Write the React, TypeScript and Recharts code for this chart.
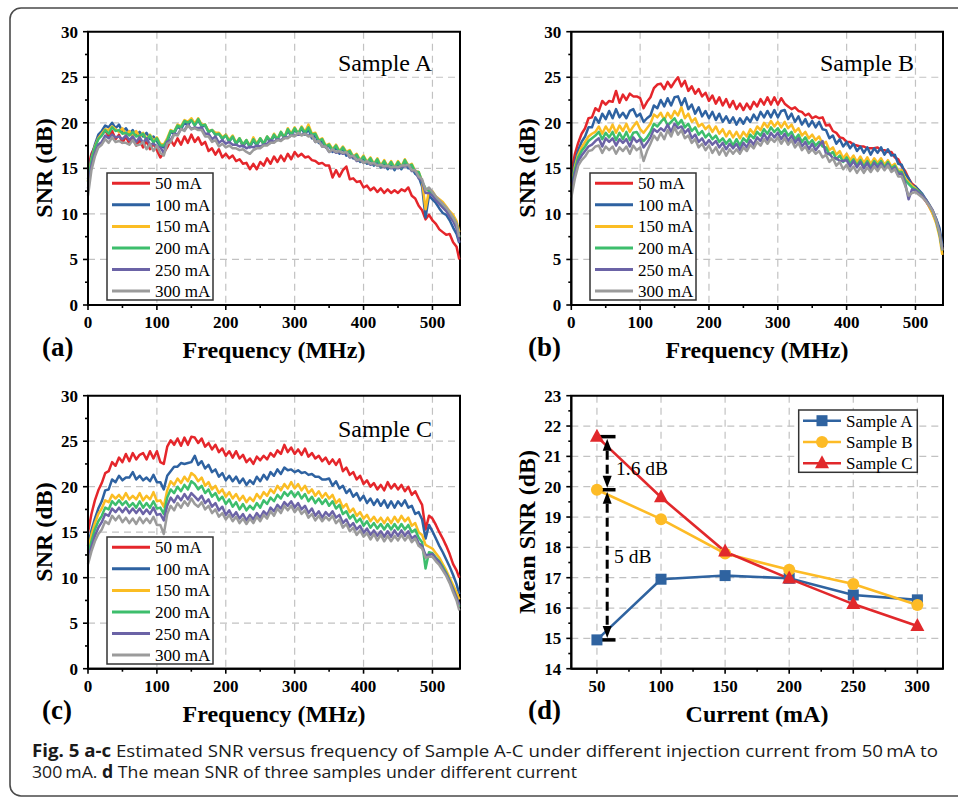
import React from 'react';
import {
  LineChart,
  Line,
  XAxis,
  YAxis,
  CartesianGrid,
  ReferenceArea,
  ReferenceLine,
} from 'recharts';

// ---------- sampling grid and series labels ----------
const FREQ_MHZ: number[] = [...Array.from({ length: 108 }, (_, i) => i * 5), 539];
const CURRENT_LABELS = ['50 mA', '100 mA', '150 mA', '200 mA', '250 mA', '300 mA'];
const CURRENT_COLORS = ['#E5262B', '#2E62A1', '#FBBD23', '#3DBE6C', '#6B63A6', '#9B9B9B'];

// ---------- Sample A: SNR (dB) vs frequency ----------
const A_50 = [15.0, 16.6, 17.4, 18.4, 18.7, 19.2, 18.5, 19.1, 18.2, 18.7, 17.8, 18.5, 17.7, 18.3, 17.5, 18.1, 17.3, 18.0, 17.1, 17.7, 17.0, 16.2, 16.7, 17.3, 18.1, 17.5, 18.3, 17.6, 18.5, 17.8, 18.7, 17.9, 18.4, 17.6, 17.9, 16.9, 17.2, 16.5, 17.1, 16.2, 16.6, 16.1, 16.4, 15.8, 16.0, 15.5, 15.6, 14.9, 15.5, 14.9, 15.7, 15.3, 16.1, 15.5, 16.3, 15.7, 16.4, 15.8, 16.6, 16.0, 16.8, 16.3, 16.6, 16.2, 16.3, 15.9, 15.8, 15.5, 15.6, 15.3, 15.3, 14.0, 14.8, 14.1, 14.8, 15.2, 13.8, 13.9, 13.5, 13.6, 12.9, 13.1, 12.6, 12.9, 12.4, 12.8, 12.3, 12.7, 12.3, 12.6, 12.3, 12.7, 12.5, 12.9, 12.0, 11.7, 10.9, 10.4, 9.4, 9.9, 9.3, 8.9, 8.3, 8.0, 7.7, 7.8, 6.9, 6.4, 5.0];
const A_100 = [13.8, 16.3, 17.6, 18.7, 19.1, 19.7, 19.5, 20.0, 19.4, 19.8, 19.0, 19.4, 18.8, 19.2, 18.6, 19.0, 18.5, 18.9, 18.2, 18.5, 18.0, 17.4, 17.3, 17.9, 19.0, 18.8, 19.6, 19.3, 20.0, 19.7, 20.4, 19.8, 20.3, 19.6, 19.7, 19.0, 19.2, 18.7, 18.8, 18.2, 18.7, 17.9, 18.5, 17.7, 18.2, 17.4, 18.0, 17.3, 18.1, 17.5, 18.2, 17.6, 18.4, 17.8, 18.6, 18.1, 18.9, 18.3, 19.1, 18.6, 19.3, 18.7, 19.4, 18.7, 19.3, 18.3, 18.6, 17.8, 18.0, 17.3, 17.5, 16.8, 17.4, 16.6, 17.2, 16.4, 16.8, 16.1, 16.4, 15.7, 16.1, 15.5, 16.0, 15.3, 15.8, 15.1, 15.6, 14.9, 15.5, 14.8, 15.5, 14.9, 15.6, 15.0, 15.1, 14.4, 14.1, 13.0, 9.6, 12.0, 11.6, 11.2, 10.6, 10.1, 9.9, 9.3, 8.5, 7.8, 6.8];
const A_150 = [13.6, 16.0, 17.4, 18.3, 18.8, 19.3, 19.2, 19.6, 19.3, 19.0, 19.4, 18.7, 19.1, 18.5, 19.1, 18.4, 18.9, 18.2, 18.7, 18.0, 18.4, 17.7, 17.6, 18.3, 19.2, 19.0, 19.8, 19.6, 20.3, 20.1, 20.5, 19.9, 20.5, 19.8, 19.8, 19.1, 19.2, 18.9, 18.9, 18.4, 18.7, 18.1, 18.6, 17.8, 18.3, 17.6, 18.1, 17.5, 18.4, 17.7, 18.3, 17.7, 18.5, 18.0, 18.8, 18.2, 19.0, 18.4, 19.4, 18.8, 19.5, 18.8, 19.6, 19.0, 19.8, 18.8, 18.9, 18.1, 18.3, 17.5, 17.7, 17.1, 17.6, 16.9, 17.4, 16.8, 17.0, 16.3, 16.6, 15.9, 16.4, 15.7, 16.2, 15.5, 16.1, 15.3, 15.9, 15.2, 15.8, 15.1, 15.8, 15.2, 16.0, 15.3, 15.5, 14.7, 14.6, 13.6, 10.5, 12.6, 12.5, 11.9, 11.6, 11.3, 10.8, 10.3, 9.9, 9.2, 8.0];
const A_200 = [13.5, 15.9, 17.3, 18.2, 18.6, 19.2, 18.8, 19.5, 19.1, 19.2, 18.8, 18.9, 18.6, 19.0, 18.5, 18.6, 18.8, 18.1, 18.6, 17.8, 18.3, 17.5, 17.5, 18.1, 19.1, 19.0, 19.7, 19.5, 20.2, 20.0, 20.3, 19.7, 20.4, 19.7, 19.8, 19.0, 19.2, 18.7, 18.8, 18.3, 18.6, 18.0, 18.5, 17.7, 18.3, 17.6, 18.1, 17.4, 18.2, 17.6, 18.3, 17.7, 18.5, 18.0, 18.7, 18.2, 19.0, 18.4, 19.3, 18.7, 19.4, 18.8, 19.5, 18.9, 19.5, 18.7, 18.8, 18.0, 18.2, 17.4, 17.6, 17.0, 17.5, 16.8, 17.3, 16.7, 16.9, 16.2, 16.5, 15.8, 16.3, 15.6, 16.1, 15.4, 16.0, 15.2, 15.8, 15.1, 15.7, 15.0, 15.7, 15.1, 15.9, 15.2, 15.4, 14.6, 14.6, 13.5, 12.8, 12.5, 12.3, 11.8, 11.4, 11.0, 10.6, 10.0, 9.6, 8.9, 7.4];
const A_250 = [12.8, 15.3, 16.7, 17.6, 17.9, 18.6, 18.3, 18.7, 18.4, 18.5, 18.2, 18.6, 18.1, 18.5, 17.9, 18.4, 17.8, 18.3, 17.6, 17.7, 17.4, 17.3, 16.7, 17.9, 18.1, 18.8, 18.7, 19.3, 19.2, 19.8, 19.3, 19.5, 19.4, 19.5, 18.8, 18.8, 18.2, 18.5, 17.8, 18.1, 17.7, 17.9, 17.6, 17.6, 17.4, 17.5, 17.2, 17.4, 17.3, 17.5, 17.4, 17.6, 17.7, 18.1, 17.9, 18.2, 18.1, 18.4, 18.4, 18.6, 18.6, 18.7, 18.7, 18.8, 18.6, 18.6, 17.9, 18.0, 17.4, 17.4, 16.8, 17.0, 16.7, 16.8, 16.6, 16.7, 16.2, 16.3, 15.8, 15.9, 15.6, 15.7, 15.4, 15.5, 15.3, 15.3, 15.1, 15.2, 15.0, 15.1, 15.0, 15.2, 15.2, 15.3, 14.7, 14.7, 13.9, 13.6, 12.3, 12.3, 12.0, 11.5, 11.1, 10.7, 10.3, 9.7, 9.2, 8.4, 6.9];
const A_300 = [12.0, 14.8, 16.3, 17.3, 17.6, 18.2, 17.8, 18.4, 17.9, 18.0, 17.8, 17.8, 17.6, 18.1, 17.5, 17.6, 17.9, 17.1, 17.7, 16.9, 17.5, 16.7, 16.4, 17.7, 17.9, 18.7, 18.6, 19.3, 19.1, 19.7, 19.3, 19.4, 19.2, 19.2, 18.5, 18.5, 17.9, 18.1, 17.4, 17.7, 17.3, 17.5, 17.2, 17.2, 17.0, 17.1, 16.8, 16.6, 17.0, 17.2, 17.2, 17.5, 17.5, 17.8, 17.8, 18.1, 18.0, 18.3, 18.3, 18.6, 18.5, 18.9, 18.6, 18.8, 18.5, 18.6, 17.9, 18.0, 17.4, 17.4, 16.8, 17.1, 16.8, 16.9, 16.7, 16.8, 16.3, 16.4, 15.9, 16.0, 15.6, 15.8, 15.5, 15.6, 15.3, 15.4, 15.2, 15.3, 15.1, 15.2, 15.1, 15.3, 15.3, 15.4, 14.8, 14.8, 14.1, 13.8, 12.6, 12.9, 12.4, 11.9, 11.5, 11.1, 10.7, 10.2, 9.6, 8.9, 7.5];

// ---------- Sample B ----------
const B_50 = [14.5, 16.5, 17.8, 18.8, 19.4, 20.5, 20.6, 21.6, 21.3, 22.4, 22.0, 22.4, 22.3, 23.5, 22.2, 23.1, 22.5, 23.2, 22.9, 22.9, 22.7, 21.6, 22.3, 22.8, 23.8, 24.2, 24.3, 23.7, 24.5, 23.9, 24.5, 25.0, 24.0, 24.6, 23.5, 24.0, 23.2, 23.7, 22.9, 23.3, 22.4, 23.0, 22.1, 22.8, 21.9, 22.6, 21.7, 22.4, 21.5, 22.1, 21.4, 22.1, 21.5, 22.3, 21.8, 22.6, 22.0, 22.8, 22.0, 22.8, 22.0, 22.7, 22.1, 21.8, 21.5, 21.7, 21.3, 21.2, 20.8, 21.0, 20.5, 20.7, 20.5, 20.6, 19.7, 19.8, 19.1, 18.9, 18.4, 18.3, 17.9, 17.9, 17.6, 17.5, 17.4, 17.4, 17.2, 17.2, 17.2, 17.3, 17.0, 17.0, 16.8, 16.8, 16.2, 16.0, 15.2, 14.7, 13.9, 13.3, 13.0, 12.5, 11.9, 11.4, 10.8, 10.1, 9.2, 8.0, 6.0];
const B_100 = [13.5, 15.6, 17.0, 17.9, 18.5, 19.5, 19.5, 20.6, 20.0, 21.0, 20.4, 21.3, 20.5, 21.5, 20.6, 21.1, 20.5, 21.3, 21.5, 20.7, 21.0, 20.1, 20.5, 20.8, 21.9, 21.6, 22.5, 21.8, 22.7, 21.9, 22.8, 22.9, 21.9, 22.7, 21.5, 22.0, 21.0, 21.7, 20.7, 21.3, 20.5, 21.2, 20.3, 21.0, 20.1, 20.7, 20.0, 20.6, 19.8, 20.5, 19.9, 20.6, 20.1, 20.9, 20.3, 21.2, 20.6, 21.3, 20.6, 21.4, 20.6, 21.3, 21.4, 20.4, 21.0, 20.1, 20.7, 19.8, 20.4, 19.6, 20.2, 19.5, 20.1, 19.3, 19.2, 18.3, 18.6, 17.7, 18.2, 17.4, 17.9, 17.2, 17.7, 16.9, 17.4, 16.7, 17.3, 16.5, 17.2, 16.7, 17.3, 16.5, 17.1, 16.4, 16.5, 15.5, 15.4, 14.4, 13.9, 13.1, 13.0, 12.6, 12.2, 11.6, 10.9, 10.3, 9.5, 8.4, 6.5];
const B_150 = [13.0, 15.1, 16.5, 17.3, 17.9, 18.5, 18.8, 19.0, 19.6, 18.8, 19.6, 19.0, 19.8, 18.9, 19.7, 19.1, 19.9, 19.0, 19.6, 20.1, 19.3, 18.9, 19.4, 19.9, 20.9, 20.6, 21.1, 20.3, 21.1, 20.5, 21.3, 20.8, 21.7, 20.5, 21.0, 20.1, 20.5, 19.6, 19.9, 19.3, 19.7, 19.0, 19.6, 18.8, 19.3, 18.5, 19.1, 18.4, 19.0, 18.3, 19.0, 18.5, 19.3, 18.8, 19.6, 19.2, 20.0, 19.5, 20.2, 19.6, 20.1, 19.5, 20.1, 19.4, 19.8, 19.0, 19.4, 18.6, 19.0, 18.3, 18.7, 18.1, 18.5, 17.7, 17.9, 17.0, 17.3, 16.5, 16.9, 16.1, 16.6, 15.9, 16.4, 15.7, 16.3, 15.6, 16.2, 15.5, 16.1, 15.6, 16.1, 15.4, 15.9, 15.2, 15.5, 14.7, 14.8, 13.9, 13.5, 13.1, 12.8, 12.4, 12.0, 11.5, 10.8, 10.0, 9.0, 7.5, 5.5];
const B_200 = [12.8, 14.8, 16.2, 16.9, 17.4, 18.0, 18.3, 18.6, 19.0, 18.2, 18.9, 18.4, 19.0, 18.1, 18.9, 18.2, 19.0, 18.1, 18.9, 19.0, 18.4, 18.0, 18.4, 19.0, 19.9, 19.6, 20.1, 20.5, 19.7, 20.1, 20.5, 19.8, 20.3, 19.5, 19.9, 19.1, 19.5, 18.7, 19.1, 18.4, 18.8, 18.2, 18.6, 17.9, 18.3, 17.7, 18.2, 17.5, 18.2, 17.5, 18.3, 17.9, 18.7, 18.3, 19.0, 18.6, 19.3, 18.8, 19.5, 19.0, 19.4, 18.8, 19.3, 18.6, 19.0, 18.2, 18.7, 17.9, 18.4, 17.7, 18.1, 17.5, 17.9, 17.4, 17.3, 16.5, 16.8, 16.0, 16.4, 15.7, 16.2, 15.5, 16.0, 15.3, 15.9, 15.2, 15.8, 15.1, 15.8, 15.3, 15.8, 15.1, 15.7, 15.0, 15.3, 14.6, 14.6, 13.7, 13.3, 12.9, 12.7, 12.4, 12.0, 11.6, 11.0, 10.3, 9.3, 7.8, 6.0];
const B_250 = [12.5, 14.4, 15.8, 16.4, 16.9, 17.4, 17.6, 18.0, 18.3, 17.4, 18.3, 17.9, 18.3, 17.5, 18.2, 17.8, 18.2, 17.4, 18.4, 17.9, 18.2, 17.3, 17.8, 18.4, 19.3, 19.0, 19.4, 19.1, 19.8, 19.0, 19.9, 19.4, 19.6, 18.9, 19.3, 18.3, 18.7, 17.9, 18.3, 17.6, 18.1, 17.6, 18.0, 17.3, 17.8, 17.1, 17.7, 17.2, 17.7, 17.0, 17.8, 17.3, 18.1, 17.6, 18.4, 18.0, 18.8, 18.1, 18.9, 18.4, 18.9, 18.2, 18.8, 18.0, 18.6, 17.8, 18.3, 17.4, 17.9, 17.1, 17.7, 17.0, 17.5, 18.0, 16.6, 16.6, 16.1, 16.1, 15.8, 15.8, 15.9, 15.2, 15.8, 15.1, 15.7, 15.0, 15.6, 14.9, 15.6, 15.1, 15.6, 14.9, 15.5, 14.8, 15.1, 14.4, 14.4, 13.4, 11.6, 12.7, 12.6, 12.3, 12.0, 11.6, 11.0, 10.4, 9.4, 8.0, 6.2];
const B_300 = [11.8, 13.8, 15.3, 15.9, 16.3, 16.9, 17.0, 17.4, 17.5, 16.7, 17.4, 17.0, 17.4, 16.6, 17.3, 16.9, 17.4, 16.6, 17.5, 17.0, 17.3, 15.8, 16.9, 17.7, 18.6, 18.1, 18.9, 18.2, 19.2, 18.5, 19.5, 18.7, 19.2, 18.3, 18.6, 17.8, 18.2, 17.3, 17.7, 17.0, 17.5, 16.7, 17.3, 16.5, 17.2, 16.4, 17.1, 16.6, 17.1, 16.6, 17.3, 16.9, 17.6, 17.2, 17.9, 17.5, 18.2, 17.7, 18.3, 17.9, 18.4, 17.7, 18.3, 17.6, 18.1, 17.3, 17.8, 17.0, 17.4, 16.7, 17.1, 16.6, 16.9, 16.2, 16.5, 15.7, 16.1, 15.3, 15.7, 14.9, 15.4, 14.7, 15.2, 14.5, 15.1, 14.5, 15.1, 14.6, 15.2, 14.7, 15.3, 14.8, 15.3, 14.6, 14.9, 14.1, 14.1, 13.1, 12.0, 12.3, 12.4, 12.1, 11.8, 11.4, 10.9, 10.3, 9.3, 7.9, 6.0];

// ---------- Sample C ----------
const C_50 = [15.0, 17.0, 18.5, 19.6, 20.4, 21.5, 21.7, 22.7, 22.3, 23.2, 22.7, 23.6, 22.8, 23.7, 23.0, 23.5, 23.7, 23.0, 23.9, 23.1, 23.9, 22.7, 22.5, 24.4, 25.1, 24.6, 25.3, 24.5, 25.4, 24.6, 25.5, 25.4, 24.8, 25.3, 24.4, 24.8, 24.1, 24.6, 23.8, 24.2, 23.4, 23.9, 23.2, 23.9, 23.1, 23.5, 22.7, 23.1, 22.5, 23.3, 22.9, 23.4, 23.0, 23.7, 23.3, 24.0, 23.6, 24.6, 23.8, 24.3, 23.6, 24.1, 23.5, 24.2, 23.3, 23.7, 23.1, 23.4, 22.8, 23.2, 22.5, 23.0, 22.4, 23.0, 21.7, 22.1, 21.3, 21.6, 20.8, 21.2, 20.3, 20.7, 20.0, 20.4, 19.7, 20.2, 19.6, 20.5, 19.8, 20.3, 19.7, 20.2, 19.5, 20.0, 19.1, 19.5, 18.7, 18.0, 15.3, 16.8, 16.5, 15.8, 15.0, 14.3, 13.5, 12.6, 11.5, 10.8, 10.0];
const C_100 = [13.5, 15.2, 16.5, 17.6, 18.4, 19.6, 19.7, 20.8, 20.5, 21.2, 20.7, 21.0, 21.0, 21.6, 20.8, 21.2, 20.7, 21.0, 20.6, 21.3, 20.5, 20.5, 19.7, 21.2, 21.7, 22.2, 22.2, 22.6, 22.5, 22.6, 22.7, 23.4, 22.4, 22.8, 22.0, 22.4, 21.6, 21.9, 21.1, 21.5, 20.7, 21.2, 20.6, 21.1, 20.4, 20.9, 20.2, 20.7, 20.3, 21.1, 20.6, 21.3, 20.8, 21.6, 21.2, 21.9, 21.4, 22.1, 21.8, 21.9, 21.6, 21.8, 21.5, 21.6, 21.3, 21.4, 21.1, 21.1, 20.8, 20.8, 20.9, 20.1, 20.6, 19.8, 20.1, 19.3, 19.7, 18.9, 19.3, 18.5, 19.0, 18.2, 18.7, 18.0, 18.6, 17.9, 18.5, 17.7, 18.4, 17.7, 18.4, 17.9, 18.5, 17.7, 17.9, 17.0, 17.2, 16.4, 14.3, 15.8, 15.1, 14.3, 13.5, 12.8, 12.0, 11.2, 10.3, 9.3, 8.2];
const C_150 = [13.0, 14.7, 16.0, 17.0, 17.6, 18.5, 18.3, 19.1, 18.7, 19.1, 18.6, 19.3, 18.6, 19.0, 18.6, 19.3, 18.5, 19.0, 18.6, 19.4, 18.4, 18.5, 17.8, 19.6, 20.6, 20.2, 20.9, 20.4, 21.1, 20.6, 21.5, 21.2, 20.6, 21.0, 20.1, 20.5, 19.7, 20.1, 19.3, 19.7, 18.9, 19.4, 18.7, 19.2, 18.5, 19.0, 18.3, 18.8, 18.4, 19.2, 18.7, 19.4, 19.0, 19.7, 19.3, 20.1, 19.6, 20.3, 19.8, 20.5, 19.8, 20.3, 19.6, 20.1, 19.3, 19.7, 19.0, 19.5, 18.8, 19.3, 18.7, 19.1, 18.2, 18.6, 17.7, 18.1, 17.2, 17.6, 16.8, 17.2, 16.5, 16.9, 16.2, 16.7, 16.1, 16.6, 16.0, 16.6, 16.0, 16.7, 16.1, 16.8, 16.2, 16.6, 15.7, 16.0, 15.0, 14.7, 13.6, 13.4, 13.2, 12.7, 12.2, 11.5, 10.8, 10.0, 9.2, 8.4, 7.6];
const C_200 = [12.5, 14.0, 15.3, 16.2, 16.8, 17.7, 17.5, 18.4, 18.0, 18.5, 18.0, 18.4, 17.8, 18.2, 17.7, 18.4, 17.7, 18.2, 17.7, 18.4, 17.6, 17.7, 17.0, 18.8, 19.7, 19.3, 20.0, 19.5, 20.2, 19.7, 20.6, 20.3, 19.7, 20.1, 19.3, 19.7, 18.9, 19.3, 18.5, 18.9, 18.1, 18.6, 17.8, 18.3, 17.5, 18.1, 17.4, 17.9, 17.5, 18.2, 17.7, 18.5, 18.1, 18.8, 18.4, 19.1, 18.7, 19.4, 19.0, 19.5, 18.9, 19.4, 18.7, 19.2, 18.4, 18.9, 18.2, 18.7, 18.1, 18.6, 17.9, 18.4, 17.6, 18.0, 17.0, 17.3, 16.5, 16.9, 16.1, 16.5, 15.7, 16.2, 15.5, 16.0, 15.4, 15.9, 15.3, 15.9, 15.3, 15.9, 15.3, 15.9, 15.3, 15.8, 15.0, 15.3, 14.4, 13.9, 11.0, 12.8, 12.7, 12.2, 11.8, 11.2, 10.5, 9.7, 8.8, 7.8, 6.8];
const C_250 = [12.0, 13.4, 14.6, 15.5, 16.1, 17.0, 16.8, 17.6, 17.2, 17.7, 17.2, 17.7, 17.1, 17.6, 17.1, 17.6, 17.0, 17.5, 17.0, 17.7, 16.9, 17.0, 16.3, 17.9, 18.8, 18.3, 19.0, 18.5, 19.2, 18.6, 19.3, 18.9, 18.5, 19.0, 18.2, 18.6, 17.8, 18.2, 17.4, 17.8, 16.9, 17.4, 16.7, 17.2, 16.5, 17.0, 16.3, 16.9, 16.4, 17.1, 16.6, 17.3, 16.9, 17.7, 17.3, 18.0, 17.6, 18.3, 17.9, 18.4, 17.7, 18.2, 17.5, 17.9, 17.1, 17.6, 16.8, 17.3, 16.6, 17.2, 16.8, 17.3, 16.6, 16.9, 16.0, 16.4, 15.6, 16.0, 15.3, 15.7, 14.9, 15.4, 14.7, 15.2, 14.6, 15.1, 14.5, 15.1, 14.5, 15.2, 14.6, 15.2, 14.6, 15.1, 14.3, 14.6, 13.8, 13.5, 12.5, 12.5, 12.6, 12.1, 11.7, 11.0, 10.4, 9.6, 8.7, 7.8, 7.0];
const C_300 = [11.5, 12.9, 14.0, 14.8, 15.3, 16.2, 15.9, 16.8, 16.3, 16.8, 16.1, 16.6, 16.0, 16.5, 15.9, 16.6, 16.0, 16.5, 16.0, 16.7, 15.8, 15.8, 14.8, 17.0, 17.9, 17.4, 18.2, 17.7, 18.4, 17.9, 18.7, 18.1, 17.8, 18.3, 17.5, 17.9, 17.1, 17.5, 16.7, 17.1, 16.4, 16.9, 16.2, 16.7, 16.0, 16.5, 15.9, 16.5, 16.0, 16.7, 16.2, 16.9, 16.5, 17.3, 16.8, 17.6, 17.1, 17.9, 17.4, 17.9, 17.2, 17.7, 17.0, 17.4, 16.6, 17.0, 16.3, 16.8, 16.2, 16.7, 16.3, 16.8, 16.0, 16.4, 15.5, 15.9, 15.1, 15.5, 14.7, 15.2, 14.5, 14.9, 14.2, 14.8, 14.1, 14.7, 14.0, 14.6, 14.0, 14.6, 14.1, 14.7, 14.1, 14.6, 13.9, 14.3, 13.5, 13.2, 12.2, 12.3, 12.3, 11.8, 11.4, 10.8, 10.2, 9.4, 8.4, 7.5, 6.4];

// ---------- (d) mean SNR vs injection current ----------
const CURRENT_MA = [50, 100, 150, 200, 250, 300];
const MEAN_A = [14.95, 16.95, 17.07, 16.98, 16.43, 16.27];
const MEAN_B = [19.9, 18.93, 17.8, 17.26, 16.79, 16.1];
const MEAN_C = [21.65, 19.65, 17.86, 16.97, 16.13, 15.41];
const MEAN_LABELS = ['Sample A', 'Sample B', 'Sample C'];
const MEAN_COLORS = ['#2F63A0', '#FDBB26', '#E1282B'];
const MEAN_MARKERS = ['square', 'circle', 'triangle'];

// ---------- axis tick sets ----------
const FREQ_TICKS = [0, 50, 100, 150, 200, 250, 300, 350, 400, 450, 500];
const FREQ_MAJOR = [0, 100, 200, 300, 400, 500];
const SNR_TICKS = [0, 2.5, 5, 7.5, 10, 12.5, 15, 17.5, 20, 22.5, 25, 27.5, 30];
const SNR_MAJOR = [0, 5, 10, 15, 20, 25, 30];
const CUR_TICKS = [50, 75, 100, 125, 150, 175, 200, 225, 250, 275, 300];
const CUR_MAJOR = [50, 100, 150, 200, 250, 300];
const MEAN_TICKS = [14, 14.5, 15, 15.5, 16, 16.5, 17, 17.5, 18, 18.5, 19, 19.5, 20, 20.5, 21, 21.5, 22, 22.5, 23];
const MEAN_MAJOR = [14, 15, 16, 17, 18, 19, 20, 21, 22, 23];

const SERIF = '"Liberation Serif", "Times New Roman", Times, serif';
const SANS = '"Open Sans", "Noto Sans", sans-serif';
const GRID = '#C2C2C2';

const buildRows = (series: number[][]) =>
  FREQ_MHZ.map((f, i) => {
    const row: Record<string, number> = { f };
    series.forEach((s, k) => {
      row[`c${k}`] = s[i];
    });
    return row;
  });

const ROWS_A = buildRows([A_50, A_100, A_150, A_200, A_250, A_300]);
const ROWS_B = buildRows([B_50, B_100, B_150, B_200, B_250, B_300]);
const ROWS_C = buildRows([C_50, C_100, C_150, C_200, C_250, C_300]);
const ROWS_D = CURRENT_MA.map((c, i) => ({ c, a: MEAN_A[i], b: MEAN_B[i], m: MEAN_C[i] }));

// ---------- tick renderers (major ticks labelled, minor ticks short) ----------
const bottomTick = (majors: number[]) => (p: any) => {
  const { x, y, payload } = p;
  const major = majors.includes(payload.value);
  return (
    <g>
      <line x1={x} y1={y} x2={x} y2={y + (major ? 5 : 3)} stroke="#000" strokeWidth={1.6} />
      {major && (
        <text x={x} y={y + 23} textAnchor="middle" fontFamily={SERIF} fontWeight="bold" fontSize={17} fill="#000">
          {payload.value}
        </text>
      )}
    </g>
  );
};

const leftTick = (majors: number[]) => (p: any) => {
  const { x, y, payload } = p;
  const major = majors.includes(payload.value);
  return (
    <g>
      <line x1={x} y1={y} x2={x - (major ? 5 : 3)} y2={y} stroke="#000" strokeWidth={1.6} />
      {major && (
        <text x={x - 10} y={y + 6} textAnchor="end" fontFamily={SERIF} fontWeight="bold" fontSize={17} fill="#000">
          {payload.value}
        </text>
      )}
    </g>
  );
};

// ---------- SNR vs frequency panel ----------
type SpectrumProps = { rows: Record<string, number>[]; plotLeft: number; top: number; right: number; bottom: number };

function SpectrumChart({ rows, plotLeft, top, right, bottom }: SpectrumProps) {
  return (
    <LineChart width={480} height={340} data={rows} margin={{ top, right, left: 0, bottom }}>
      <CartesianGrid
        stroke={GRID}
        strokeWidth={1.2}
        strokeDasharray="7 5"
        horizontalValues={[5, 10, 15, 20, 25]}
        verticalValues={[100, 200, 300, 400, 500]}
      />
      <XAxis
        dataKey="f"
        type="number"
        domain={[0, 540]}
        ticks={FREQ_TICKS}
        interval={0}
        height={30}
        tickSize={0}
        tickMargin={0}
        tickLine={false}
        axisLine={{ stroke: '#000', strokeWidth: 2 }}
        tick={bottomTick(FREQ_MAJOR)}
      />
      <YAxis
        type="number"
        domain={[0, 30]}
        ticks={SNR_TICKS}
        interval={0}
        width={plotLeft}
        tickSize={0}
        tickMargin={0}
        tickLine={false}
        axisLine={{ stroke: '#000', strokeWidth: 2 }}
        tick={leftTick(SNR_MAJOR)}
      />
      {CURRENT_LABELS.map((label, k) => (
        <Line
          key={label}
          name={label}
          dataKey={`c${k}`}
          type="linear"
          stroke={CURRENT_COLORS[k]}
          strokeWidth={2.5}
          strokeLinejoin="round"
          dot={false}
          isAnimationActive={false}
        />
      ))}
      <ReferenceArea x1={0} x2={540} y1={0} y2={30} fill="none" stroke="#000" strokeWidth={2} ifOverflow="visible" />
    </LineChart>
  );
}

// ---------- markers for panel (d) ----------
const marker = (kind: string, color: string) => (p: any) => {
  const { cx, cy, index } = p;
  if (cx == null || cy == null) return <g key={index} />;
  if (kind === 'square')
    return <rect key={index} x={cx - 5.5} y={cy - 5.5} width={11} height={11} fill={color} />;
  if (kind === 'circle') return <circle key={index} cx={cx} cy={cy} r={6} fill={color} />;
  return <polygon key={index} points={`${cx},${cy - 8} ${cx - 7},${cy + 5} ${cx + 7},${cy + 5}`} fill={color} />;
};

// dashed double-headed arrow between two levels
const arrowShape = (p: any) => {
  const { x1, y1, y2 } = p;
  const top = Math.min(y1, y2) + 2;
  const bot = Math.max(y1, y2) - 2;
  const head = 12;
  const half = 4.5;
  return (
    <g>
      <line x1={x1} y1={top + head} x2={x1} y2={bot - head} stroke="#000" strokeWidth={3} strokeDasharray="9 5" />
      <polygon points={`${x1},${top} ${x1 - half},${top + head} ${x1 + half},${top + head}`} fill="#000" />
      <polygon points={`${x1},${bot} ${x1 - half},${bot - head} ${x1 + half},${bot - head}`} fill="#000" />
    </g>
  );
};

const ARROW_X = 58;
const CAP_X0 = 50.5;
const CAP_X1 = 64.5;

function MeanChart() {
  const levels = [MEAN_C[0], MEAN_B[0], MEAN_A[0]];
  return (
    <LineChart width={480} height={340} data={ROWS_D} margin={{ top: 15.7, right: 15, left: 0, bottom: 21.3 }}>
      <CartesianGrid
        stroke={GRID}
        strokeWidth={1.2}
        strokeDasharray="7 5"
        horizontalValues={[15, 16, 17, 18, 19, 20, 21, 22]}
        verticalValues={[50, 100, 150, 200, 250, 300]}
      />
      <XAxis
        dataKey="c"
        type="number"
        domain={[30, 320]}
        ticks={CUR_TICKS}
        interval={0}
        height={30}
        tickSize={0}
        tickMargin={0}
        tickLine={false}
        axisLine={{ stroke: '#000', strokeWidth: 2 }}
        tick={bottomTick(CUR_MAJOR)}
      />
      <YAxis
        type="number"
        domain={[14, 23]}
        ticks={MEAN_TICKS}
        interval={0}
        width={93.3}
        tickSize={0}
        tickMargin={0}
        tickLine={false}
        axisLine={{ stroke: '#000', strokeWidth: 2 }}
        tick={leftTick(MEAN_MAJOR)}
      />
      {['a', 'b', 'm'].map((key, k) => (
        <Line
          key={key}
          name={MEAN_LABELS[k]}
          dataKey={key}
          type="linear"
          stroke={MEAN_COLORS[k]}
          strokeWidth={2.6}
          dot={marker(MEAN_MARKERS[k], MEAN_COLORS[k])}
          isAnimationActive={false}
        />
      ))}
      <ReferenceLine
        segment={[{ x: ARROW_X, y: levels[0] }, { x: ARROW_X, y: levels[1] }]}
        shape={arrowShape}
        ifOverflow="visible"
      />
      <ReferenceLine
        segment={[{ x: ARROW_X, y: levels[1] }, { x: ARROW_X, y: levels[2] }]}
        shape={arrowShape}
        ifOverflow="visible"
      />
      {levels.map((v, i) => (
        <ReferenceLine
          key={`cap${i}`}
          segment={[{ x: CAP_X0, y: v }, { x: CAP_X1, y: v }]}
          stroke="#000"
          strokeWidth={3.5}
          ifOverflow="visible"
        />
      ))}
      <ReferenceArea x1={30} x2={320} y1={14} y2={23} fill="none" stroke="#000" strokeWidth={2} ifOverflow="visible" />
    </LineChart>
  );
}

// ---------- legend boxes ----------
function CurrentLegend({ x, y }: { x: number; y: number }) {
  return (
    <g>
      <rect x={x} y={y} width={106} height={127} fill="#fff" stroke="#333" strokeWidth={1.5} />
      {CURRENT_LABELS.map((label, k) => {
        const cy = y + 10.3 + k * 21.55;
        return (
          <g key={label}>
            <line x1={x + 5} y1={cy} x2={x + 43} y2={cy} stroke={CURRENT_COLORS[k]} strokeWidth={3} />
            <text x={x + 48} y={cy + 6} fontFamily={SERIF} fontSize={17} fill="#000">
              {label}
            </text>
          </g>
        );
      })}
    </g>
  );
}

function MeanLegend({ x, y }: { x: number; y: number }) {
  return (
    <g>
      <rect x={x} y={y} width={118.6} height={62.3} fill="#fff" stroke="#333" strokeWidth={1.5} />
      {MEAN_LABELS.map((label, k) => {
        const cy = y + 10.7 + k * 21.3;
        const mx = x + 23.3;
        return (
          <g key={label}>
            <line x1={x + 4.3} y1={cy} x2={x + 42.3} y2={cy} stroke={MEAN_COLORS[k]} strokeWidth={2.6} />
            {marker(MEAN_MARKERS[k], MEAN_COLORS[k])({ cx: mx, cy, index: k })}
            <text x={x + 47.3} y={cy + 6} fontFamily={SERIF} fontSize={17} fill="#000">
              {label}
            </text>
          </g>
        );
      })}
    </g>
  );
}

const boldTitle = { fontFamily: SERIF, fontWeight: 'bold' as const, fill: '#000' };

export default function App() {
  return (
    <div style={{ position: 'absolute', left: 0, top: 0, width: 958, height: 799, background: '#fff', overflow: 'hidden' }}>
      <div style={{ position: 'absolute', left: 0, top: 0 }}>
        <SpectrumChart rows={ROWS_A} plotLeft={88} top={31.7} right={20} bottom={5} />
      </div>
      <div style={{ position: 'absolute', left: 478, top: 0 }}>
        <SpectrumChart rows={ROWS_B} plotLeft={93.3} top={31.7} right={15} bottom={5} />
      </div>
      <div style={{ position: 'absolute', left: 0, top: 380 }}>
        <SpectrumChart rows={ROWS_C} plotLeft={88} top={15.7} right={20} bottom={21.3} />
      </div>
      <div style={{ position: 'absolute', left: 478, top: 380 }}>
        <MeanChart />
      </div>

      <svg width={958} height={799} style={{ position: 'absolute', left: 0, top: 0, pointerEvents: 'none' }}>
        <rect x={10} y={8} width={990} height={788} rx={11} ry={11} fill="none" stroke="#4A4A4A" strokeWidth={1.6} />

        {/* panel (a) */}
        <text x={52} y={168} transform="rotate(-90 52 168)" textAnchor="middle" fontSize={24} {...boldTitle}>SNR (dB)</text>
        <text x={274} y={358} textAnchor="middle" fontSize={24} {...boldTitle}>Frequency (MHz)</text>
        <text x={42} y={356} fontSize={27} {...boldTitle}>(a)</text>
        <text x={432} y={71} textAnchor="end" fontFamily={SERIF} fontSize={24} fill="#000">Sample A</text>
        <CurrentLegend x={107} y={173} />

        {/* panel (b) */}
        <text x={535} y={168} transform="rotate(-90 535 168)" textAnchor="middle" fontSize={24} {...boldTitle}>SNR (dB)</text>
        <text x={757} y={358} textAnchor="middle" fontSize={24} {...boldTitle}>Frequency (MHz)</text>
        <text x={528} y={356} fontSize={27} {...boldTitle}>(b)</text>
        <text x={914} y={71} textAnchor="end" fontFamily={SERIF} fontSize={24} fill="#000">Sample B</text>
        <CurrentLegend x={590} y={173} />

        {/* panel (c) */}
        <text x={52} y={532} transform="rotate(-90 52 532)" textAnchor="middle" fontSize={24} {...boldTitle}>SNR (dB)</text>
        <text x={274} y={722} textAnchor="middle" fontSize={24} {...boldTitle}>Frequency (MHz)</text>
        <text x={42} y={719} fontSize={27} {...boldTitle}>(c)</text>
        <text x={432} y={437} textAnchor="end" fontFamily={SERIF} fontSize={24} fill="#000">Sample C</text>
        <CurrentLegend x={107} y={537} />

        {/* panel (d) */}
        <text x={535} y={532} transform="rotate(-90 535 532)" textAnchor="middle" fontSize={24} {...boldTitle}>Mean SNR (dB)</text>
        <text x={757} y={722} textAnchor="middle" fontSize={24} {...boldTitle}>Current (mA)</text>
        <text x={528} y={719} fontSize={27} {...boldTitle}>(d)</text>
        <text x={616} y={475} fontFamily={SERIF} fontSize={19.5} fill="#000">1.6 dB</text>
        <text x={614} y={563} fontFamily={SERIF} fontSize={19.5} fill="#000">5 dB</text>
        <MeanLegend x={798.7} y={410} />

        {/* caption */}
        <text x={32} y={757} fontFamily={SANS} fontSize={17} fill="#1A1A1A" textLength={906} lengthAdjust="spacingAndGlyphs">
          <tspan fontWeight="bold">Fig. 5 a-c</tspan> Estimated SNR versus frequency of Sample A-C under different injection current from 50{'\u2009'}mA to
        </text>
        <text x={32} y={778} fontFamily={SANS} fontSize={17} fill="#1A1A1A" textLength={545} lengthAdjust="spacingAndGlyphs">
          300{'\u2009'}mA. <tspan fontWeight="bold">d</tspan> The mean SNR of three samples under different current
        </text>
      </svg>
    </div>
  );
}
